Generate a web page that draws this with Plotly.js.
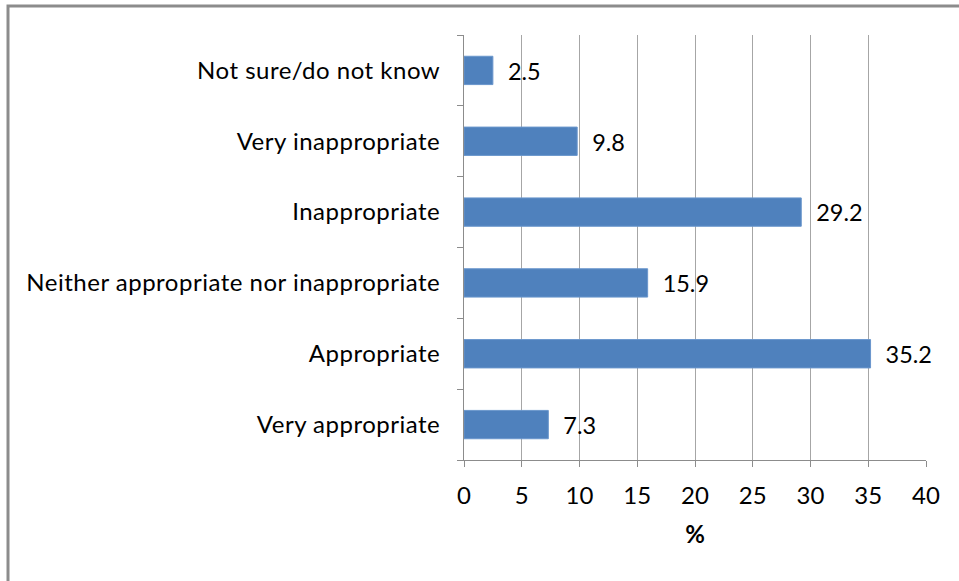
<!DOCTYPE html>
<html><head><meta charset="utf-8">
<script src="https://cdn.plot.ly/plotly-3.0.1.min.js"></script>
<style>html,body{margin:0;padding:0;background:#fff}#chart{width:959px;height:581px}
#chart .ytick text{letter-spacing:0.5px}</style>
</head><body><div id="chart"></div>
<script>
var categories = ["Very appropriate","Appropriate","Neither appropriate nor inappropriate","Inappropriate","Very inappropriate","Not sure/do not know"];
var values = [7.3, 35.2, 15.9, 29.2, 9.8, 2.5];
var xTicks = [0,5,10,15,20,25,30,35,40];

var trace = {
  type: 'bar', orientation: 'h',
  x: values, y: categories,
  marker: {color: '#4F81BD', line: {color: '#6A96CC', width: 1}},
  text: values.map(function(v){return v.toFixed(1);}),
  texttemplate: '  %{text}',
  textposition: 'outside', cliponaxis: false,
  textfont: {family: 'Lato, Open Sans, sans-serif', size: 24, color: '#000'},
  hoverinfo: 'none'
};
var font = {family: 'Lato, Open Sans, sans-serif', size: 24, color: '#000'};
var layout = {
  width: 959, height: 581,
  margin: {l: 464, r: 33, t: 35, b: 121},
  paper_bgcolor: '#fff', plot_bgcolor: '#fff',
  showlegend: false, bargap: 0.6,
  font: font,
  xaxis: {range: [0, 40], tickvals: xTicks, ticktext: xTicks.map(String),
    showgrid: true, gridcolor: '#A6A6A6', gridwidth: 1,
    showline: true, linecolor: '#8C8C8C', linewidth: 1,
    ticks: 'outside', ticklen: 6, tickcolor: '#8C8C8C', ticklabelstandoff: 8,
    zeroline: false, tickfont: font, fixedrange: true,
    title: {text: '<b>%</b>', font: font, standoff: 18}},
  yaxis: {type: 'category', categoryorder: 'array', categoryarray: categories,
    showline: true, linecolor: '#8C8C8C', linewidth: 1,
    ticks: 'outside', ticklen: 6, tickcolor: '#8C8C8C', tickson: 'boundaries',
    showgrid: false, tickfont: font, ticklabelstandoff: 18, fixedrange: true},
  shapes: [{type: 'rect', xref: 'paper', yref: 'paper',
    x0: -0.987, x1: 1.1, y0: -0.35, y1: 1.068,
    line: {color: '#8C8C8C', width: 3}}]
};
Plotly.newPlot('chart', [trace], layout, {staticPlot: true});
</script></body></html>
